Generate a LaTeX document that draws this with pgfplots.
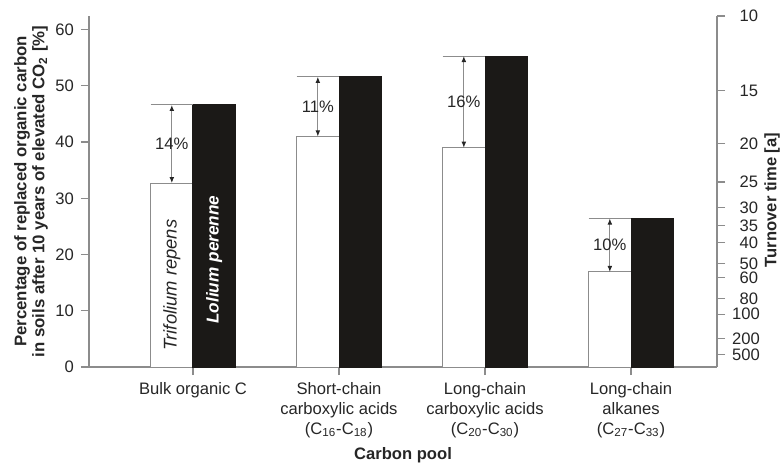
\documentclass[border=0pt]{standalone}
\usepackage{fontspec}
\setmainfont{Liberation Sans}
\usepackage{pgfplots}
\pgfplotsset{compat=1.18}
\usetikzlibrary{arrows.meta}
\definecolor{txt}{HTML}{262626}
\definecolor{axc}{HTML}{8C8C8C}
\definecolor{barblk}{HTML}{1B1917}
\newcommand{\fs}{\fontsize{8.3}{10}\selectfont}
\begin{document}
\begin{tikzpicture}
\pgfplotsset{
  common/.style={
    scale only axis, width=314pt, height=175.45pt,
    xmin=-0.7123, xmax=3.589, ymin=0, ymax=62.4,
    axis line style={axc, line width=0.6pt},
    tick style={axc, line width=0.6pt},
    tick align=outside, major tick length=4pt,
    tick label style={font=\fs, text=txt},
    /pgf/number format/assume math mode=true,
  }
}
\begin{axis}[common,
  axis x line*=bottom, axis y line*=left,
  xtick={0,1,2,3},
  xticklabels={Bulk organic C,
    {Short-chain\\carboxylic acids\\(C\textsubscript{16}-C\textsubscript{18})},
    {Long-chain\\carboxylic acids\\(C\textsubscript{20}-C\textsubscript{30})},
    {Long-chain\\alkanes\\(C\textsubscript{27}-C\textsubscript{33})}},
  xticklabel style={align=center},
  ytick={0,10,...,60},
  ybar, bar width=0.29,
  xlabel={Carbon pool},
  xlabel style={font=\bfseries\fs, text=txt, at={(axis description cs:0.5,-0.264)}, anchor=base},
  ylabel={Percentage of replaced organic carbon\\in soils after 10 years of elevated CO\textsubscript{2} [\%]},
  ylabel style={font=\bfseries\fontsize{8.4}{9}\selectfont, text=txt, align=center, at={(axis description cs:-0.0924,0.5)}, anchor=center},
]
\addplot[fill=white, draw=axc, line width=0.5pt, bar shift=0pt] coordinates {(-0.145,32.7) (0.855,41.0) (1.855,39.0) (2.855,16.9)};
\addplot[fill=barblk, draw=barblk, line width=0.5pt, bar shift=0pt] coordinates {(0.145,46.6) (1.145,51.6) (2.145,55.3) (3.145,26.4)};
% annotations
\draw[axc, line width=0.5pt] (axis cs:-0.29,46.6) -- (axis cs:0,46.6);
\draw[axc, line width=0.5pt] (axis cs:0.71,51.6) -- (axis cs:1,51.6);
\draw[axc, line width=0.5pt] (axis cs:1.71,55.3) -- (axis cs:2,55.3);
\draw[axc, line width=0.5pt] (axis cs:2.71,26.4) -- (axis cs:3,26.4);
\tikzset{dbl/.style={axc, line width=0.5pt, {Latex[length=3pt,width=2.4pt,color=black!85]}-{Latex[length=3pt,width=2.4pt,color=black!85]}}}
\draw[dbl] (axis cs:-0.145,32.7) -- (axis cs:-0.145,46.6) node[midway, text=txt, font=\fs] {14\%};
\draw[dbl] (axis cs:0.855,41.0) -- (axis cs:0.855,51.6) node[midway, text=txt, font=\fs] {11\%};
\draw[dbl] (axis cs:1.855,39.0) -- (axis cs:1.855,55.3) node[midway, text=txt, font=\fs] {16\%};
\draw[dbl] (axis cs:2.855,16.9) -- (axis cs:2.855,26.4) node[midway, text=txt, font=\fs] {10\%};
\node[rotate=90, text=txt, font=\itshape\fontsize{9.2}{10}\selectfont] at (axis cs:-0.145,14.6) {Trifolium repens};
\node[rotate=90, text=white, font=\bfseries\itshape\fontsize{8.6}{10}\selectfont] at (axis cs:0.145,19.1) {Lolium perenne};
\end{axis}
\begin{axis}[common,
  hide x axis, axis y line*=right,
  ytick={62.4,49.1,39.7,32.9,28.3,25.2,22.1,18.4,15.9,12.2,9.4,5.0,2.2},
  yticklabels={10,15,20,25,30,35,40,50,60,80,100,200,500},
  yticklabel style={text width=13pt, align=right},
  ylabel={Turnover time [a]},
  ylabel style={font=\bfseries\fs, text=txt, at={(axis description cs:1.0876,0.476)}, anchor=center},
]
\end{axis}
\pgfresetboundingbox
\path[use as bounding box] (-44.5pt,-49pt) rectangle (346pt,183.5pt);
\end{tikzpicture}
\end{document}
